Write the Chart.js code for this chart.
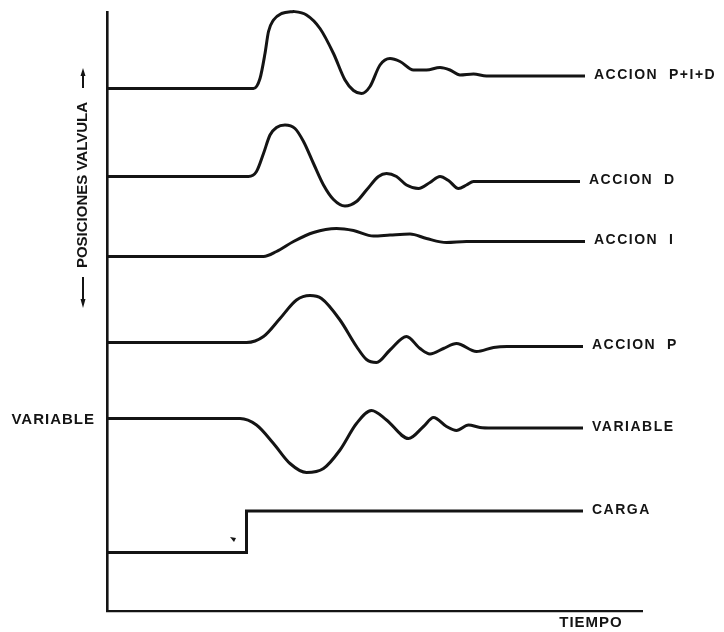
<html lang="es">
<head>
  <meta charset="UTF-8">
  <title>Acciones de control</title>
  <script src="https://cdn.jsdelivr.net/npm/chart.js@4.4.1/dist/chart.umd.min.js"></script>
  <style>
    body { margin: 0; background: #fff; }
    #wrap { width: 724px; height: 632px; }
  </style>
</head>
<body>
  <div id="wrap"><canvas id="curvas"></canvas></div>
  <script>
    // tiempo (abscisa) y posicion (ordenada) de cada respuesta
    const tPID = [0, 27.0, 29.3, 30.6, 31.6, 32.3, 33.3, 34.9, 37.3, 39.9, 42.6, 45.3, 47.6, 49.3, 50.9, 52.6, 54.6, 56.6, 58.6, 61.3, 63.9, 66.6, 68.6, 70.6, 73.3, 75.9, 78.5, 95.6]
    const vPID = [104.5, 104.5, 104.5, 106.5, 111.5, 115.9, 118.2, 119.5, 119.9, 119.2, 116.5, 111.5, 106.2, 104.1, 103.5, 104.9, 109.2, 110.5, 109.9, 108.2, 108.2, 108.7, 108.2, 107.2, 107.4, 107, 107, 107]

    const tD = [0, 26.0, 28.3, 29.9, 31.3, 32.6, 33.9, 35.6, 37.6, 39.3, 41.3, 43.3, 45.3, 47.6, 49.9, 51.9, 54.3, 55.9, 57.9, 59.9, 62.3, 64.6, 66.6, 68.3, 70.3, 71.9, 73.3, 76.0, 94.6]
    const vD = [86.9, 86.9, 86.9, 87.9, 91.5, 95.2, 96.7, 97.2, 96.5, 93.9, 89.5, 85.2, 82.3, 81, 81.9, 84.2, 86.9, 87.5, 86.9, 85.2, 84.5, 85.7, 86.9, 86.1, 84.5, 85.2, 85.9, 85.9, 85.9]

    const tI = [0, 28.5, 31.3, 33.9, 37.3, 41.3, 45.9, 49.3, 53.3, 56.6, 60.6, 63.9, 67.9, 71.9, 75.0, 95.6]
    const vI = [70.9, 70.9, 70.9, 71.9, 73.9, 75.7, 76.5, 76.1, 75, 75.2, 75.4, 74.5, 73.7, 73.9, 73.9, 73.9]

    const tP = [0, 25.5, 27.9, 31.3, 34.6, 37.9, 40.6, 42.9, 46.6, 49.9, 51.9, 53.9, 56.6, 59.9, 62.6, 64.6, 67.3, 69.9, 73.9, 77.3, 80.0, 95.2]
    const vP = [53.7, 53.7, 53.7, 54.9, 58.5, 62.2, 63.1, 62.5, 58.2, 52.9, 50.3, 49.7, 52.2, 54.9, 52.5, 51.4, 52.5, 53.5, 51.9, 52.7, 52.9, 52.9]

    const tVar = [0, 24.5, 26.6, 29.9, 33.3, 36.6, 39.9, 43.3, 46.6, 49.9, 52.9, 55.9, 60.3, 63.3, 65.3, 67.9, 69.9, 72.3, 74.6, 77.0, 95.2]
    const vVar = [38.5, 38.5, 38.5, 37.2, 33.5, 29.5, 27.7, 28.5, 32.2, 37.5, 40.1, 38.2, 34.5, 36.9, 38.7, 36.9, 36.1, 37.2, 36.7, 36.6, 36.6]

    const tCarga = [0, 27.9, 27.9, 95.2]
    const vCarga = [11.7, 11.7, 20, 20]

    const nombres = ["ACCION  P+I+D", "ACCION  D", "ACCION  I", "ACCION  P", "VARIABLE", "CARGA"]

    const TINTA = "#141414"
    const FUENTE = "'Liberation Sans', Arial, sans-serif"

    const puntos = (t, v) => t.map((x, i) => ({ x, y: v[i] }))
    const series = [[tPID, vPID], [tD, vD], [tI, vI], [tP, vP], [tVar, vVar], [tCarga, vCarga]]

    const datasets = series.map(([t, v], i) => ({
      label: nombres[i],
      data: puntos(t, v),
      borderColor: TINTA,
      borderWidth: 3,
      pointRadius: 0,
      fill: false,
      clip: false,
      // curvas suaves sin rebasar los tramos planos; la carga es un escalon
      cubicInterpolationMode: i < 5 ? "monotone" : "default",
      tension: 0,
      borderJoinStyle: i < 5 ? "round" : "miter",
      borderCapStyle: "butt",
    }))

    const rotulos = {
      id: "rotulos",
      afterDatasetsDraw(chart) {
        const { ctx, chartArea, scales: { x, y } } = chart
        ctx.save()
        ctx.fillStyle = TINTA
        ctx.strokeStyle = TINTA
        ctx.textBaseline = "middle"

        // nombre de cada curva a su derecha
        ctx.font = "bold 14px " + FUENTE
        ctx.letterSpacing = "1.5px"
        series.forEach(([t, v], i) => {
          const n = t.length - 1
          ctx.fillText(nombres[i], x.getPixelForValue(t[n]) + 9, y.getPixelForValue(v[n]) - 1)
        })

        // VARIABLE en el eje
        ctx.font = "bold 15px " + FUENTE
        ctx.letterSpacing = "1px"
        ctx.textAlign = "right"
        ctx.fillText("VARIABLE", chartArea.left - 12, y.getPixelForValue(vVar[0]) + 1)

        ctx.textAlign = "center"
        ctx.fillText("TIEMPO", x.getPixelForValue(96.8), chartArea.bottom + 12)

        // titulo vertical con flechas
        const cx = chartArea.left - 24
        ctx.save()
        ctx.translate(cx, 185)
        ctx.rotate(-Math.PI / 2)
        ctx.letterSpacing = "0px"
        ctx.fillText("POSICIONES VALVULA", 0, 0)
        ctx.restore()

        ctx.lineWidth = 2
        ctx.beginPath()
        ctx.moveTo(cx, 88); ctx.lineTo(cx, 74)
        ctx.moveTo(cx, 277); ctx.lineTo(cx, 300)
        ctx.stroke()
        ctx.beginPath()
        ctx.moveTo(cx, 68); ctx.lineTo(cx - 2.5, 76); ctx.lineTo(cx + 2.5, 76); ctx.closePath()
        ctx.moveTo(cx, 308); ctx.lineTo(cx - 2.5, 299); ctx.lineTo(cx + 2.5, 299); ctx.closePath()
        ctx.fill()

        // marca junto al escalon de carga
        const mx = x.getPixelForValue(25.2), my = y.getPixelForValue(14.4)
        ctx.beginPath()
        ctx.moveTo(mx - 3, my - 2); ctx.lineTo(mx + 3, my - 1); ctx.lineTo(mx + 1, my + 3); ctx.closePath()
        ctx.fill()
        ctx.restore()
      }
    }

    new Chart(document.getElementById("curvas"), {
      type: "line",
      data: { datasets },
      plugins: [rotulos],
      options: {
        responsive: true,
        maintainAspectRatio: false,
        animation: false,
        layout: { padding: { left: 107, top: 12, right: 82, bottom: 21 } },
        plugins: { legend: { display: false }, tooltip: { enabled: false } },
        scales: {
          x: {
            type: "linear", min: 0, max: 107,
            grid: { display: false, drawTicks: false },
            ticks: { display: false },
            border: { display: true, color: TINTA, width: 2.2 },
            afterFit: s => { s.height = 0 },
          },
          y: {
            type: "linear", min: 0, max: 119.8,
            grid: { display: false, drawTicks: false },
            ticks: { display: false },
            border: { display: true, color: TINTA, width: 2.6 },
            afterFit: s => { s.width = 0 },
          },
        },
      },
    })
  </script>
</body>
</html>
